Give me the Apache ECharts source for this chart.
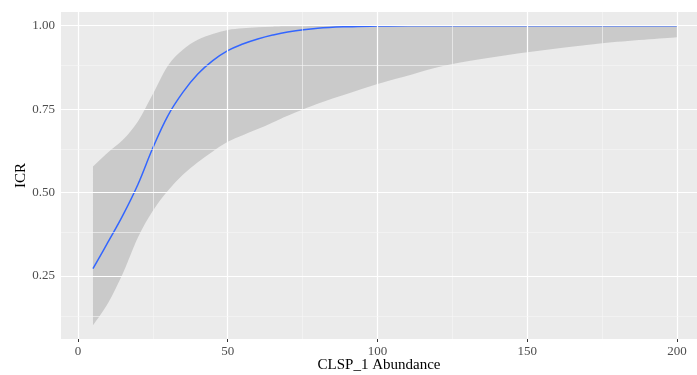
<!DOCTYPE html>
<html>
<head>
<meta charset="utf-8">
<script src="https://cdn.jsdelivr.net/npm/echarts@6/dist/echarts.min.js"></script>
<style>html,body{margin:0;padding:0;background:#fff}#c{width:697px;height:375px}</style>
</head>
<body>
<div id="c"></div>
<script>
var xs    = [5, 10, 15, 20, 25, 30, 35, 40, 45, 50, 55, 60, 65, 70, 80, 90, 100, 110, 125, 150, 175, 200];
var fit   = [0.272, 0.351, 0.432, 0.524, 0.634, 0.730, 0.800, 0.855, 0.895, 0.925, 0.945, 0.960, 0.972, 0.981, 0.992, 0.997, 0.999, 1.0, 1.0, 1.0, 1.0, 1.0];
var upper = [0.578, 0.620, 0.658, 0.713, 0.795, 0.880, 0.928, 0.958, 0.975, 0.987, 0.992, 0.995, 0.997, 0.998, 0.999, 1.0, 1.0, 1.0, 1.0, 1.0, 1.0, 1.0];
var lower = [0.102, 0.168, 0.258, 0.365, 0.445, 0.505, 0.553, 0.591, 0.623, 0.652, 0.672, 0.690, 0.710, 0.730, 0.766, 0.796, 0.825, 0.850, 0.885, 0.920, 0.947, 0.965];
var xTicks = [0, 50, 100, 150, 200];
var xMinor = [25, 75, 125, 175];
var yTicks = [0.25, 0.50, 0.75, 1.00];
var yMinor = [0.125, 0.375, 0.625, 0.875];
var xLabel = 'CLSP_1 Abundance';
var yLabel = 'ICR';

var font = 'Liberation Serif';
function pairs(a){ return xs.map(function(x,i){ return [x, a[i]]; }); }

var gridLines = [];
xTicks.forEach(function(v){ gridLines.push({xAxis:v, lineStyle:{color:'#ffffff', width:1.2, type:'solid'}}); });
xMinor.forEach(function(v){ gridLines.push({xAxis:v, lineStyle:{color:'#f6f6f6', width:0.6, type:'solid'}}); });
yTicks.forEach(function(v){ gridLines.push({yAxis:v, lineStyle:{color:'#ffffff', width:1.2, type:'solid'}}); });
yMinor.forEach(function(v){ gridLines.push({yAxis:v, lineStyle:{color:'#f6f6f6', width:0.6, type:'solid'}}); });

// smooth curve through pixel points (Catmull-Rom -> cubic Bezier), drawing only
function curve(p, first){
  var s = (first ? 'M' : 'L') + p[0][0] + ' ' + p[0][1];
  for (var i = 0; i < p.length - 1; i++) {
    var p0 = p[i-1] || p[i], p1 = p[i], p2 = p[i+1], p3 = p[i+2] || p[i+1];
    var c1x = p1[0] + (p2[0]-p0[0])/6, c1y = p1[1] + (p2[1]-p0[1])/6;
    var c2x = p2[0] - (p3[0]-p1[0])/6, c2y = p2[1] - (p3[1]-p1[1])/6;
    s += ' C' + c1x + ' ' + c1y + ' ' + c2x + ' ' + c2y + ' ' + p2[0] + ' ' + p2[1];
  }
  return s;
}
function ribbon(params, api){
  var up = [], lo = [];
  for (var i = 0; i < xs.length; i++) up.push(api.coord([xs[i], upper[i]]));
  for (var j = xs.length - 1; j >= 0; j--) lo.push(api.coord([xs[j], lower[j]]));
  var d = curve(up, true) + ' ' + curve(lo, false) + ' Z';
  return {type:'path', shape:{pathData:d}, style:{fill:'rgba(153,153,153,0.4)', stroke:null}};
}

var chart = echarts.init(document.getElementById('c'), null, {renderer:'canvas'});
chart.setOption({
  animation:false,
  grid:{left:61, right:0, top:12, bottom:36, show:true, backgroundColor:'#EBEBEB', borderWidth:0,
        outerBoundsMode:'none', containLabel:false},
  xAxis:{
    type:'value', min:-5.68, max:206.7,
    name:xLabel, nameLocation:'middle', nameGap:19, nameMoveOverlap:false,
    nameTextStyle:{fontFamily:font, fontSize:15, color:'#000'},
    axisLine:{show:false},
    axisTick:{show:true, customValues:xTicks, length:3, lineStyle:{color:'#333', width:1}},
    axisLabel:{customValues:xTicks, fontFamily:font, fontSize:13, color:'#4D4D4D', margin:6},
    splitLine:{show:false}
  },
  yAxis:{
    type:'value', min:0.061, max:1.041,
    name:yLabel, nameLocation:'middle', nameGap:32, nameRotate:90, nameMoveOverlap:false,
    nameTextStyle:{fontFamily:font, fontSize:15, color:'#000'},
    axisLine:{show:false},
    axisTick:{show:true, customValues:yTicks, length:3, lineStyle:{color:'#333', width:1}},
    axisLabel:{customValues:yTicks, fontFamily:font, fontSize:13, color:'#4D4D4D', margin:6,
      formatter:function(v){ return v.toFixed(2); }},
    splitLine:{show:false}
  },
  series:[
    {type:'line', data:[], z:1, silent:true,
     markLine:{silent:true, symbol:['none','none'], label:{show:false}, data:gridLines, animation:false}},
    {type:'custom', data:[[xs[0], lower[0]]], renderItem:ribbon, z:2, silent:true, clip:true},
    {type:'line', data:pairs(fit), symbol:'none', smooth:0.4, z:3,
     lineStyle:{color:'#3366FF', width:1.5}}
  ]
});
</script>
</body>
</html>
